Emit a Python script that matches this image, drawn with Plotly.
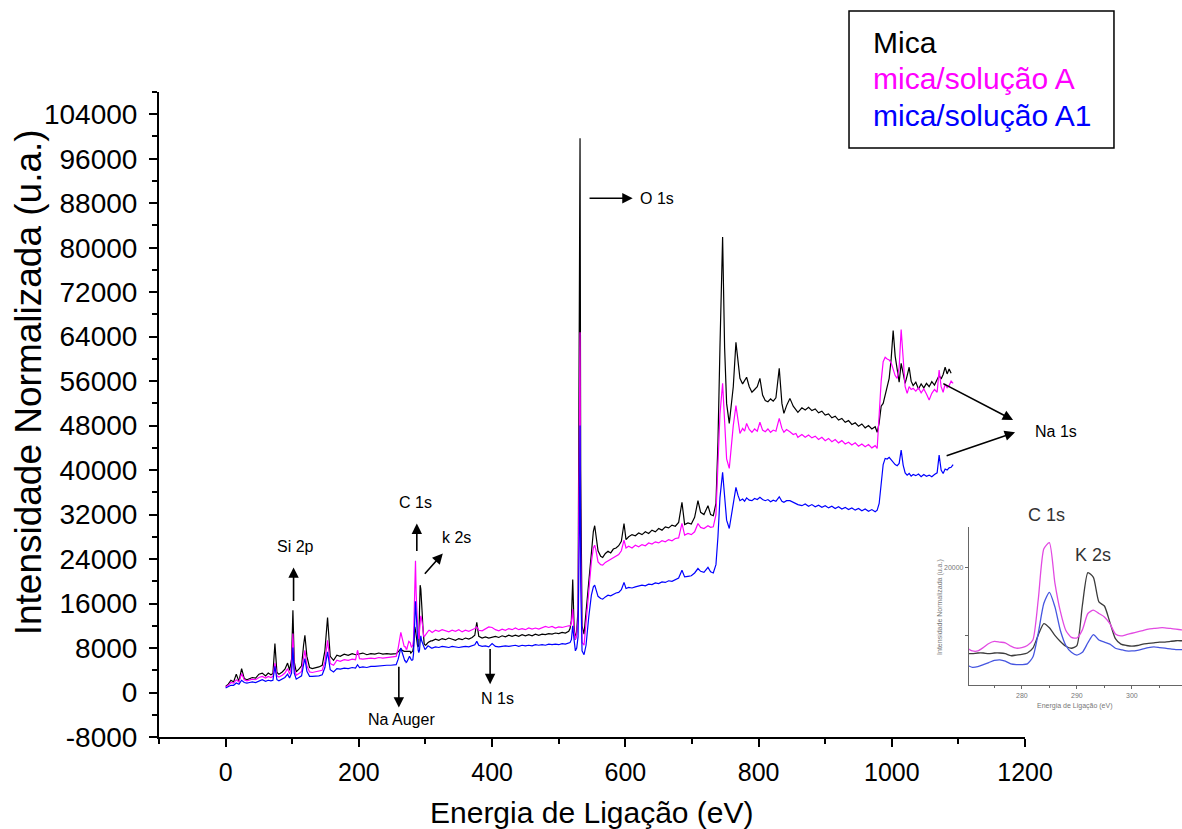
import plotly.graph_objects as go

# Binding energy grid (eV) and normalised XPS survey intensities (a.u.)
energia_ev = [
    0, 4, 8, 12, 16, 20, 24, 28, 32, 36, 40, 45, 50, 55, 60,
    64, 68, 71, 74, 77, 80, 85, 89, 93, 96, 99, 101, 103, 106, 110, 114, 117, 119, 122, 126, 130,
    135, 140, 145, 149, 153, 157, 162, 167, 172, 178, 184, 190, 195, 198, 201, 206, 212, 218, 224, 230, 236, 242, 248,
    252, 256, 259, 261, 263, 265, 267, 268, 269,
    270, 271, 272, 273, 274, 275, 276, 277, 278, 279,
    280, 281, 282, 283, 284, 285, 286, 287, 288, 289,
    290, 291, 292, 293, 294, 295, 296, 297, 298, 299,
    300, 301, 302, 303, 304, 305, 306, 307, 308, 309,
    310, 315, 320, 325, 330, 335, 340, 345, 350, 355, 360, 365, 370, 374, 377,
    380, 385, 390, 395, 400, 405, 410, 415, 420, 425, 430, 435, 440, 445,
    450, 455, 460, 465, 470, 475, 480, 485, 490, 495, 500, 505, 510, 515,
    517, 519, 521, 523, 525, 527, 529, 531, 532, 533, 535, 538, 541, 545, 549, 552, 554, 556, 559,
    563, 566, 570, 574, 578, 582, 586, 590, 594, 598,
    601, 605, 610, 615, 620, 625, 630, 635, 640, 645,
    650, 655, 660, 665, 670, 675, 680, 685, 689, 694,
    699, 704, 709, 713, 718, 724, 728, 732, 736, 739,
    742, 746, 749, 752, 756, 759, 762, 766, 769, 772,
    776, 779, 782, 786, 790, 794, 798, 802, 806, 810,
    814, 818, 822, 826, 831, 835, 838, 842, 847, 852,
    856, 859,
    865, 870, 875, 880, 885, 890, 895, 900, 905, 910, 915, 920,
    925, 930, 935, 940, 945, 950, 955, 960, 965, 970, 975, 978,
    981, 984, 987, 990, 993, 996, 999, 1002, 1005, 1008, 1011, 1014, 1017, 1020, 1023, 1026, 1029, 1032,
    1036, 1040, 1044, 1048, 1052, 1056, 1060, 1064, 1068,
    1071, 1074, 1077, 1080, 1083, 1086, 1089, 1092,
]

mica = [
    1100, 1500, 2200, 1900, 3300, 2000, 4300, 2500, 2300, 2500, 2700, 2600, 3300, 3500, 3000,
    3500, 3200, 3400, 8800, 3600, 3300, 3700, 4200, 5300, 4000, 6000, 14800, 5500, 3700, 4200, 4800, 8500, 10300, 6500, 4500, 4300,
    4400, 4600, 4900, 7500, 13500, 6500, 5800, 6700, 6500, 6900, 6700, 7000, 6800, 6900, 6900, 7100, 6800, 7000, 6900, 7100, 6900, 7000, 6900,
    7000, 7000, 7300, 7700, 7900, 7600, 7400, 7400, 7400,
    7400, 7400, 7500, 7500, 7400, 7500, 7500, 7400, 7100, 7200,
    7300, 7500, 8200, 10200, 11800, 11200, 10100, 9200, 8500, 8200,
    8600, 14500, 19300, 18600, 15000, 14400, 12000, 9600, 8800, 8600,
    8500, 8600, 8800, 8900, 9000, 9100, 9100, 9200, 9300, 9300,
    9300, 9600, 9400, 9700, 9500, 9800, 9600, 9400, 9700, 9500, 9800, 9600, 9900, 10300, 12600,
    10100, 9800, 10000, 9800, 9900, 10100, 9900, 10200, 10000, 10300, 10100, 10300, 10100, 10400,
    10200, 10400, 10200, 10500, 10300, 10500, 10400, 10600, 10500, 10700, 10600, 10800, 10700, 11000,
    11500, 13000, 20300, 12000, 9500, 11000, 15000, 60000, 99700, 40000, 12000, 10500, 14500, 20000, 25000, 29000, 30000, 28500, 25500,
    24500, 24300, 25000, 25400, 25100, 25800, 26000, 26400, 27200, 30400,
    27500, 28000, 28400, 28200, 28700, 28400, 28900, 28600, 29200, 28900,
    29500, 29200, 29800, 29600, 30100, 29900, 30600, 34200, 30200, 30500,
    30300, 31500, 34500, 32400, 32000, 33600, 32000, 31800, 34000, 45000,
    62000, 81900, 62000, 52000, 48400, 52000, 55000, 63000, 59000, 56500,
    55500, 56000, 56700, 55000, 54000, 54500, 55000, 56500, 53500, 52500,
    52300, 52800, 52400, 53000, 58300, 52000, 50200, 51600, 52900, 51500,
    50900, 50400,
    51200, 50800, 51300, 50700, 51000, 50300, 50600, 49900, 50100, 49400, 49700, 49000,
    49300, 48600, 48900, 48200, 48500, 47900, 48300, 47600, 48000, 47400, 47800, 46800,
    48500, 51500, 52000, 53500, 55000, 56500, 60000, 65100, 60500, 58000, 55800, 59200, 57000, 55600, 57000, 58500, 56000, 55200,
    55800, 54600, 55500, 54800, 55600, 55000, 55900, 55300, 56300,
    57000, 56400, 57200, 58500, 57300, 58200, 57400, None,
]

mica_solucao_a = [
    1000, 1300, 1800, 1700, 2300, 1900, 3400, 2300, 2100, 2300, 2400, 2300, 2700, 2900, 2600,
    2900, 2700, 2900, 5300, 3000, 2800, 3100, 3500, 4300, 3300, 4500, 10600, 4300, 3100, 3400, 3800, 6200, 7600, 4800, 3700, 3600,
    3700, 3800, 4000, 5500, 9400, 5200, 4900, 5800, 5600, 5900, 5800, 6000, 5900, 7600, 6100, 6000, 6100, 6200, 6100, 6300, 6200, 6300, 6300,
    6400, 6500, 8000, 9600, 10800, 9800, 8600, 8300, 8200,
    8200, 7800, 7800, 8300, 8900, 9200, 9100, 9000, 8500, 8200,
    8300, 8600, 9400, 15500, 22800, 23700, 17800, 13600, 10800, 9800,
    9700, 10900, 13300, 13800, 13300, 12800, 11800, 10300, 10000, 10200,
    10400, 10600, 10800, 11000, 11100, 11200, 11200, 11100, 11000, 10900,
    10800, 11200, 11000, 11300, 11100, 10900, 11200, 11000, 11300, 10900, 11200, 11000, 11300, 11500, 11800,
    11200, 11100, 11400, 11800, 11700, 11300, 11100, 11400, 11200, 11500, 11300, 11600, 11300, 11500,
    11300, 11600, 11400, 11600, 11400, 11700, 11900, 11700, 11900, 11600, 11800, 11700, 11900, 12000,
    12000, 12500, 15000, 11000, 9500, 10500, 13000, 40000, 64800, 25000, 9000, 8500, 13000, 19000, 23500, 26000, 26500, 25500, 23500,
    23000, 22900, 23400, 23700, 23900, 24300, 24600, 24800, 25500, 27400,
    26000, 26300, 26000, 26500, 26200, 26600, 26400, 26900, 26700, 27100,
    26900, 27300, 27100, 27500, 27300, 27700, 27800, 30400, 28300, 28600,
    28400, 28900, 30400, 29700, 29500, 30000, 29700, 29800, 32000, 40000,
    50000, 55600, 48000, 42000, 40300, 45000, 48000, 51600, 49000, 46600,
    47500, 47000, 48400, 47300, 46800, 47400, 47000, 48600, 47200, 46900,
    47400, 46800, 47200, 47000, 49300, 47500, 46800, 47300, 46900, 46400,
    46600, 45900,
    46400, 45900, 46300, 45800, 46100, 45500, 45900, 45300, 45700, 45100, 45500, 44900,
    45300, 44700, 45000, 44500, 44900, 44300, 44700, 44200, 44600, 44000, 44400, 43900,
    50000, 56000, 59500, 60300, 60000, 59800, 59300, 58000, 57000, 56500, 58500, 65300, 59000, 55000, 53800, 55000, 54500, 54700,
    54200, 54800, 53900, 54600, 53700, 52600, 53800, 54500, 54000,
    58000, 55000, 54000, 55500, 54800, 55200, 56000, 55600,
]

mica_solucao_a1 = [
    800, 1000, 1300, 1300, 1700, 1500, 2200, 1800, 1700, 1800, 1900, 1800, 2100, 2300, 2000,
    2200, 2100, 2200, 4700, 2300, 2100, 2400, 2700, 3300, 2600, 3500, 8100, 3500, 2400, 2700, 3000, 5000, 6100, 3800, 2900, 2900,
    2900, 3000, 3200, 4500, 7300, 4100, 3700, 4300, 4200, 4400, 4300, 4500, 4400, 5000, 4500, 4600, 4500, 4700, 4700, 4800, 4800, 4900, 4900,
    5000, 5000, 6000, 7000, 8000, 7200, 6200, 5800, 5700,
    5700, 5400, 5500, 5800, 6100, 6400, 6500, 6300, 5900, 5800,
    5800, 5900, 6900, 10500, 14800, 16400, 14300, 10800, 8600, 7600,
    7200, 7600, 9000, 10200, 9400, 9100, 8800, 8200, 8000, 7800,
    7800, 7900, 8100, 8300, 8400, 8300, 8200, 8100, 8000, 8000,
    8000, 8200, 8100, 8300, 8200, 8100, 8300, 8200, 8100, 8200, 8300, 8200, 8400, 8600, 9200,
    8500, 8300, 8400, 8200, 8800, 8300, 8200, 8300, 8400, 8300, 8400, 8500, 8300, 8500,
    8400, 8500, 8400, 8600, 8500, 8600, 8500, 8700, 8600, 8700, 8600, 8800, 8700, 8900,
    9000, 9500, 12000, 9500, 7500, 8000, 10000, 30000, 48000, 20000, 7500, 6800, 8500, 13500, 17500, 19000, 19300, 18500, 17300,
    16900, 16800, 17200, 17500, 17400, 17700, 17900, 18000, 18500, 19800,
    18700, 18900, 18800, 19000, 19100, 19300, 19200, 19500, 19400, 19700,
    19600, 19900, 19800, 20100, 20000, 20300, 20600, 22000, 20800, 20900,
    21000, 21500, 22300, 21800, 21600, 22500, 21700, 21500, 23000, 28000,
    35000, 39600, 35500, 31000, 29500, 32000, 34500, 36900, 35500, 34500,
    34800, 34400, 35000, 34600, 34500, 34900, 34700, 35100, 34700, 34500,
    34700, 34300, 34600, 34400, 35200, 34400, 34200, 34500, 34500, 34200,
    34000, 33800,
    33600, 33900, 33500, 33800, 33400, 33700, 33300, 33600, 33200, 33500, 33100, 33400,
    33000, 33300, 32900, 33200, 32800, 33100, 32700, 33000, 32600, 32900, 32500, 32800,
    34000, 37000, 41000, 42100, 42000, 42300, 41800, 41400, 41000, 40800, 41200, 43600, 40900, 39500, 39100, 39400, 38900, 39200,
    39000, 39300, 38800, 39200, 38900, 39100, 38800, 39200, 39500,
    42700, 40000, 39400, 40200, 40000, 40400, 40500, 41000,
]

series_names = ["Mica", "mica/solução A", "mica/solução A1"]
series_colors = ["#000000", "#FF00FF", "#0000FF"]
inset_colors = ["#3c3c3c", "#e24ae2", "#4656e0"]

x_ticks = [0, 200, 400, 600, 800, 1000, 1200]
y_ticks = [-8000, 0, 8000, 16000, 24000, 32000, 40000, 48000, 56000, 64000,
           72000, 80000, 88000, 96000, 104000]
y_tick_text = [str(v) for v in y_ticks]   # plain hyphen for the negative label
inset_x_ticks = [280, 290, 300]

FONT = "Liberation Sans, Arial, sans-serif"

fig = go.Figure()

# survey spectra on the main axes
for vals, name, color in zip([mica, mica_solucao_a, mica_solucao_a1], series_names, series_colors):
    fig.add_trace(go.Scatter(
        x=energia_ev, y=vals, name=name, mode="lines",
        line=dict(color=color, width=1.2), showlegend=False,
    ))

# C 1s / K 2s detail on the inset axes
for vals, name, color in zip([mica, mica_solucao_a, mica_solucao_a1], series_names, inset_colors):
    fig.add_trace(go.Scatter(
        x=energia_ev, y=vals, name=name, mode="lines", xaxis="x2", yaxis="y2",
        line=dict(color=color, width=1.3, shape="spline", smoothing=0.6), showlegend=False,
    ))

axis_common = dict(
    showline=True, linecolor="black", linewidth=2, showgrid=False, zeroline=False,
    ticks="outside", ticklen=8, tickwidth=2, tickcolor="black",
)

inset_axis = dict(
    showline=True, linecolor="#666666", linewidth=1.2, showgrid=False, zeroline=False,
    ticks="outside", ticklen=3, tickwidth=1, tickcolor="#666666",
    tickfont=dict(family=FONT, size=7, color="#777777"),
)

fig.update_layout(
    width=1182, height=829,
    margin=dict(l=159, r=0, t=92, b=92, autoexpand=False),
    paper_bgcolor="white", plot_bgcolor="white",
    xaxis=dict(
        axis_common, domain=[0, 0.8466], range=[-100, 1200], tickvals=x_ticks,
        tickfont=dict(family=FONT, size=25, color="black"), ticklabelstandoff=4,
        minor=dict(dtick=100, tick0=0, ticks="outside", ticklen=5, tickwidth=2, tickcolor="black"),
    ),
    yaxis=dict(
        axis_common, domain=[0, 1], range=[-8000, 108000], tickvals=y_ticks, ticktext=y_tick_text,
        tickfont=dict(family=FONT, size=28, color="black"), ticklabelstandoff=6,
        minor=dict(dtick=4000, tick0=0, ticks="outside", ticklen=5, tickwidth=2, tickcolor="black"),
    ),
    xaxis2=dict(
        inset_axis, domain=[0.7918, 1.0], anchor="y2", range=[270.4, 309.1],
        tickvals=inset_x_ticks,
        minor=dict(dtick=5, tick0=0, ticks="outside", ticklen=2, tickcolor="#666666"),
    ),
    yaxis2=dict(
        inset_axis, domain=[0.0806, 0.3256], anchor="x2", range=[2800, 26000],
        tickvals=[10000, 20000], ticktext=["", "20000"],
    ),
)

annotations = []

# axis titles
annotations.append(dict(
    text="Energia de Ligação (eV)", xref="paper", yref="paper", x=0.4233, y=-0.1163,
    showarrow=False, font=dict(family=FONT, size=30, color="black"),
    xanchor="center", yanchor="middle",
))
annotations.append(dict(
    text="Intensidade Normalizada (u.a.)", xref="paper", yref="paper", x=-0.128, y=0.55,
    textangle=-90, showarrow=False, font=dict(family=FONT, size=37, color="black"),
    xanchor="center", yanchor="middle",
))

# text legend in a framed box
legend_rows = [(1.0775, "#000000"), (1.0217, "#FF00FF"), (0.9643, "#0000FF")]
for (ypos, color), name in zip(legend_rows, series_names):
    annotations.append(dict(
        text=name, xref="paper", yref="paper", x=0.696, y=ypos, showarrow=False,
        xanchor="left", yanchor="middle", font=dict(family=FONT, size=30, color=color),
    ))

# peak assignment arrows: (head x, head y, tail x, tail y)
peak_arrows = [
    (102, 22500, 102, 16200),      # Si 2p
    (287, 30400, 287, 25200),      # C 1s
    (326, 25000, 297, 21100),      # k 2s
    (260, -2700, 260, 4900),       # Na Auger
    (397, 1500, 397, 8100),        # N 1s
    (611, 88900, 544, 88900),      # O 1s
    (1182, 49000, 1075, 55700),    # Na 1s (upper)
    (1185, 46800, 1080, 42500),    # Na 1s (lower)
]
for hx, hy, tx, ty in peak_arrows:
    annotations.append(dict(
        x=hx, y=hy, ax=tx, ay=ty, xref="x", yref="y", axref="x", ayref="y",
        text="", showarrow=True, arrowhead=2, arrowsize=1.3, arrowwidth=1.6,
        arrowcolor="black", standoff=0, startstandoff=0,
    ))

peak_labels = [
    ("Si 2p", 105, 26200, "center"),
    ("C 1s", 285, 34200, "center"),
    ("k 2s", 347, 27900, "center"),
    ("Na Auger", 264, -4800, "center"),
    ("N 1s", 408, -1000, "center"),
    ("O 1s", 619, 88900, "left"),
]
for text, lx, ly, anchor in peak_labels:
    annotations.append(dict(
        text=text, x=lx, y=ly, xref="x", yref="y", showarrow=False,
        xanchor=anchor, yanchor="middle", font=dict(family=FONT, size=16, color="black"),
    ))
annotations.append(dict(
    text="Na 1s", xref="paper", yref="paper", x=0.8543, y=0.4744, showarrow=False,
    xanchor="left", yanchor="middle", font=dict(family=FONT, size=16, color="black"),
))

# inset labels
annotations.append(dict(
    text="C 1s", xref="paper", yref="paper", x=0.868, y=0.3442, showarrow=False,
    xanchor="center", yanchor="middle", font=dict(family=FONT, size=18, color="#333333"),
))
annotations.append(dict(
    text="K 2s", xref="paper", yref="paper", x=0.913, y=0.2822, showarrow=False,
    xanchor="center", yanchor="middle", font=dict(family=FONT, size=18, color="#333333"),
))
annotations.append(dict(
    text="Energia de Ligação (eV)", xref="paper", yref="paper", x=0.8954, y=0.048,
    showarrow=False, xanchor="center", yanchor="middle",
    font=dict(family=FONT, size=7, color="#777777"),
))
annotations.append(dict(
    text="Intensidade Normalizada (u.a.)", xref="paper", yref="paper", x=0.7634, y=0.2016,
    textangle=-90, showarrow=False, xanchor="center", yanchor="middle",
    font=dict(family=FONT, size=7, color="#777777"),
))

fig.update_layout(annotations=annotations)

# frame around the legend text
fig.add_shape(
    type="rect", xref="paper", yref="paper", x0=0.6745, x1=0.9335, y0=0.9132, y1=1.1256,
    line=dict(color="black", width=1.5), fillcolor="rgba(0,0,0,0)",
)

fig.write_html("out.html")
